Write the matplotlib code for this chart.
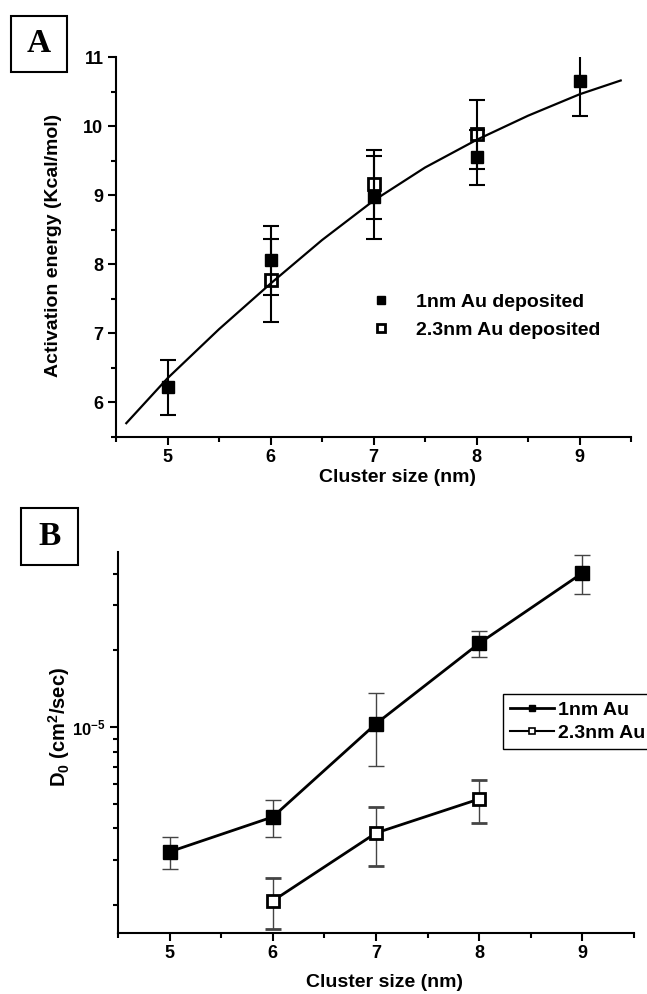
import matplotlib
matplotlib.use("Agg")
import matplotlib.pyplot as plt
from matplotlib.ticker import MultipleLocator, FixedLocator, FixedFormatter, LogLocator, NullFormatter
from matplotlib.patches import Rectangle
from matplotlib.lines import Line2D

plt.rcParams['font.family'] = ['Liberation Sans', 'DejaVu Sans']
plt.rcParams['font.weight'] = 'bold'
plt.rcParams['axes.labelweight'] = 'bold'
plt.rcParams['mathtext.fontset'] = 'custom'
plt.rcParams['mathtext.rm'] = 'Liberation Sans:bold'
plt.rcParams['mathtext.it'] = 'Liberation Sans:bold'
plt.rcParams['mathtext.bf'] = 'Liberation Sans:bold'

# panel A: activation energy vs cluster size
size_1nm = [5, 6, 7, 8, 9]
ea_1nm = [6.22, 8.06, 8.97, 9.55, 10.65]
ea_1nm_err = [0.40, 0.50, 0.60, 0.40, 0.50]
size_23nm = [6, 7, 8]
ea_23nm = [7.77, 9.16, 9.88]
ea_23nm_err = [0.60, 0.50, 0.50]
# fitted curve
fit_x = [4.6, 5.0, 5.5, 6.0, 6.5, 7.0, 7.5, 8.0, 8.5, 9.0, 9.4]
fit_y = [5.70, 6.35, 7.06, 7.72, 8.35, 8.92, 9.40, 9.80, 10.15, 10.46, 10.66]

# panel B: D0 vs cluster size
d0_1nm = [3.24e-6, 4.44e-6, 1.03e-5, 2.13e-5, 4.02e-5]
d0_1nm_err = [0.47e-6, 0.74e-6, 3.25e-6, 2.5e-6, 7.0e-6]
d0_23nm = [2.08e-6, 3.84e-6, 5.22e-6]
d0_23nm_err = [0.47e-6, 1.0e-6, 1.0e-6]

W, H = 647, 994
fig = plt.figure(figsize=(W / 100, H / 100), dpi=100)
axA = fig.add_axes([116 / W, 1 - 437 / H, 515 / W, 380 / H])
axB = fig.add_axes([118 / W, 1 - 933 / H, 516 / W, 381 / H])


def style_axes(ax):
    for s in ['top', 'right']:
        ax.spines[s].set_visible(False)
    for s in ['left', 'bottom']:
        ax.spines[s].set_linewidth(1.5)
    ax.tick_params(which='major', direction='out', length=6, width=1.5, labelsize=13, pad=3)
    ax.tick_params(which='minor', direction='out', length=3.5, width=1.5)
    ax.set_xlim(4.5, 9.5)
    ax.xaxis.set_major_locator(MultipleLocator(1))
    ax.xaxis.set_minor_locator(MultipleLocator(0.5))


# ---- panel A
style_axes(axA)
axA.set_ylim(5.5, 11)
axA.yaxis.set_major_locator(MultipleLocator(1))
axA.yaxis.set_minor_locator(MultipleLocator(0.5))

axA.plot(fit_x, fit_y, color='black', lw=1.6)
axA.errorbar(size_1nm, ea_1nm, yerr=ea_1nm_err, fmt='none', ecolor='black',
             elinewidth=1.5, capsize=6, capthick=1.5)
axA.errorbar(size_23nm, ea_23nm, yerr=ea_23nm_err, fmt='none', ecolor='black',
             elinewidth=1.5, capsize=6, capthick=1.5)
h1, = axA.plot(size_1nm, ea_1nm, 's', color='black', ms=8.5, label='1nm Au deposited')
h2, = axA.plot(size_23nm, ea_23nm, 's', mfc='none', mec='black', mew=2, ms=8,
               label='2.3nm Au deposited')
axA.legend(handles=[h1, h2], loc='upper left', bbox_to_anchor=(0.462, 0.425),
           frameon=False, fontsize=14, handlelength=1.0, handletextpad=1.3,
           labelspacing=0.55, markerscale=0.7)

axA.set_xlabel('Cluster size (nm)', fontsize=14)
axA.xaxis.set_label_coords(0.546, -0.085)
axA.set_ylabel('Activation energy (Kcal/mol)', fontsize=14)
axA.yaxis.set_label_coords(-0.105, 0.503)

# ---- panel B
style_axes(axB)
axB.set_yscale('log')
axB.set_ylim(1.556e-6, 4.86e-5)
axB.yaxis.set_major_locator(FixedLocator([1e-5]))
axB.yaxis.set_major_formatter(FixedFormatter([r'$\mathbf{10^{-5}}$']))
axB.yaxis.set_minor_locator(LogLocator(base=10, subs=range(2, 10)))
axB.yaxis.set_minor_formatter(NullFormatter())
axB.tick_params(axis='y', which='major', labelsize=12)

axB.errorbar(size_1nm, d0_1nm, yerr=d0_1nm_err, fmt='-s', color='black', lw=2,
             ms=9.5, mfc='black', mec='black', ecolor='#444444', elinewidth=1,
             capsize=6, capthick=1, label='1nm Au')
axB.errorbar(size_23nm, d0_23nm, yerr=d0_23nm_err, fmt='-s', color='black', lw=2,
             ms=8.5, mfc='white', mec='black', mew=2, ecolor='#444444', elinewidth=1,
             capsize=6, capthick=1, label='2.3nm Au')

lh1 = Line2D([], [], color='black', lw=2, marker='s', ms=5, mfc='black', mec='black')
lh2 = Line2D([], [], color='black', lw=1.5, marker='s', ms=5, mfc='white', mec='black', mew=1.2)
leg = axB.legend(handles=[lh1, lh2], labels=['1nm Au', '2.3nm Au'], loc='upper left',
                 bbox_to_anchor=(0.746, 0.627), fontsize=14, handlelength=2.3,
                 handletextpad=0.2, borderpad=0.35, labelspacing=0.3, fancybox=False,
                 framealpha=1, edgecolor='black', borderaxespad=0)
leg.get_frame().set_linewidth(1)

axB.set_xlabel('Cluster size (nm)', fontsize=14)
axB.xaxis.set_label_coords(0.517, -0.108)
axB.set_ylabel(r'D$_\mathbf{0}$ (cm$^\mathbf{2}$/sec)', fontsize=14.5)
axB.yaxis.set_label_coords(-0.09, 0.541)

# panel letters
for letter, (x0, y0, x1, y1) in [('A', (11, 16, 67, 72)), ('B', (21, 508, 78, 565))]:
    fig.patches.append(Rectangle((x0 / W, 1 - y1 / H), (x1 - x0) / W, (y1 - y0) / H,
                                 transform=fig.transFigure, fill=False, lw=1.5,
                                 edgecolor='black'))
    fig.text((x0 + x1) / 2 / W, 1 - (y0 + y1) / 2 / H, letter, ha='center', va='center',
             fontsize=24, fontweight='bold', family='Liberation Serif')

fig.savefig('out.png', dpi=100)
